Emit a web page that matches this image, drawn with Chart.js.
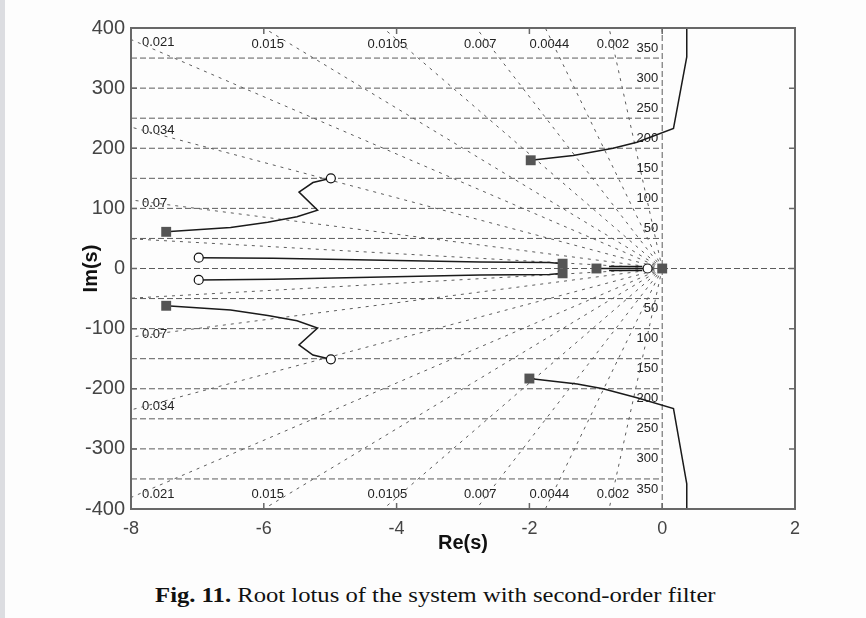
<!DOCTYPE html>
<html>
<head>
<meta charset="utf-8">
<title>Root locus</title>
<script src="https://cdn.jsdelivr.net/npm/chart.js@4.4.1/dist/chart.umd.min.js"></script>
<style>
  html, body { margin: 0; padding: 0; background: #fdfdfd; }
  body { width: 866px; height: 618px; position: relative; overflow: hidden; }
  #strip { position: absolute; left: 0; top: 0; width: 5px; height: 618px; background: #dcdde1; }
  #wrap { position: absolute; left: 0; top: 0; width: 866px; height: 555px; }
  #caption {
    position: absolute; left: 5px; width: 861px; top: 584px;
    text-align: center; color: #111;
    font: 22px "Liberation Serif", "Times New Roman", serif; line-height: 22px;
    transform: scaleX(1.12); transform-origin: 432px 0;
  }
</style>
</head>
<body>
<div id="strip"></div>
<div id="wrap"><canvas id="rootLocus" width="866" height="555"></canvas></div>
<div id="caption"><b>Fig. 11.</b> Root lotus of the system with second-order filter</div>

<script>
// axis ticks
const xTickValues = [-8, -6, -4, -2, 0, 2];
const yTickValues = [-400, -300, -200, -100, 0, 100, 200, 300, 400];

// s-plane grid: damping ratio rays and natural frequency rings
const dampingRatios = [0.002, 0.0044, 0.007, 0.0105, 0.015, 0.021, 0.034, 0.07];
const extraDampingRatios = [0.16];
const naturalFreqs = [50, 100, 150, 200, 250, 300, 350];

// locus branches
const upperOuterRe = [-7.47, -6.5, -5.94, -5.5, -5.19, -5.47, -5.26, -4.99];
const upperOuterIm = [61, 68, 77, 86, 97, 127, 143, 150];
const lowerOuterRe = [-7.47, -6.5, -5.94, -5.5, -5.19, -5.47, -5.26, -4.99];
const lowerOuterIm = [-62, -69, -78, -87, -99, -127, -144, -151];
const upperInnerRe = [-6.98, -5.86, -2.74, -1.7, -1.5];
const upperInnerIm = [18, 17, 11, 10, 8];
const lowerInnerRe = [-6.98, -5.86, -2.74, -1.7, -1.5];
const lowerInnerIm = [-19, -18, -11, -10, -8];
const realAxisRe = [-0.99, -0.22];
const realAxisIm = [0, 0];
const realUpperRe = [-0.8, -0.3];
const realUpperIm = [3.5, 3.5];
const realLowerRe = [-0.8, -0.3];
const realLowerIm = [-3.5, -3.5];
const upperFastRe = [-1.98, -1.34, -0.74, -0.38, 0.17, 0.37, 0.37];
const upperFastIm = [180, 188, 200, 210, 233, 352, 400];
const lowerFastRe = [-2.0, -1.28, -0.89, -0.38, 0.17, 0.37, 0.37];
const lowerFastIm = [-183, -192, -200, -215, -233, -358, -400];

// poles (squares) and zeros (circles)
const polesRe = [-7.47, -7.47, -1.5, -1.5, -0.99, 0, -1.98, -2.0];
const polesIm = [61, -62, 8, -8, 0, 0, 180, -183];
const zerosRe = [-4.99, -4.99, -6.98, -6.98, -0.22];
const zerosIm = [150, -151, 18, -19, 0];

const FONT = '"Liberation Sans", Arial, Helvetica, sans-serif';
const RAY_LEN = 1000;

const toPoints = (re, im) => re.map((v, i) => ({ x: v, y: im[i] }));

const dashed = (data, dash) => ({
  data,
  showLine: true,
  borderColor: '#5c5c5c',
  borderWidth: 1,
  borderDash: dash,
  pointRadius: 0,
  order: 3
});

const locus = (re, im) => ({
  data: toPoints(re, im),
  showLine: true,
  borderColor: '#1a1a1a',
  borderWidth: 1.5,
  pointRadius: 0,
  order: 2
});

// grid datasets
const gridSets = [];
dampingRatios.concat(extraDampingRatios).forEach(z => {
  const re = -z * RAY_LEN;
  const im = Math.sqrt(1 - z * z) * RAY_LEN;
  gridSets.push(dashed([{ x: 0, y: 0 }, { x: re, y: im }], [3, 5]));
  gridSets.push(dashed([{ x: 0, y: 0 }, { x: re, y: -im }], [3, 5]));
});
naturalFreqs.forEach(w => {
  gridSets.push(dashed([{ x: xTickValues[0], y: w }, { x: 0, y: w }], [6, 3]));
  gridSets.push(dashed([{ x: xTickValues[0], y: -w }, { x: 0, y: -w }], [6, 3]));
});
gridSets.push(dashed([{ x: 0, y: yTickValues[0] }, { x: 0, y: yTickValues[yTickValues.length - 1] }], [6, 3]));
gridSets.push(dashed([{ x: xTickValues[0], y: 0 }, { x: xTickValues[xTickValues.length - 1], y: 0 }], [6, 3]));

// labels for damping rays and frequency rings
const gridLabels = {
  id: 'gridLabels',
  beforeDatasetsDraw(chart) {
    const { ctx, chartArea, scales: { x, y } } = chart;
    ctx.save();
    ctx.font = '13px ' + FONT;
    ctx.fillStyle = '#222';
    ctx.textBaseline = 'middle';

    dampingRatios.forEach(z => {
      const slope = Math.sqrt(1 - z * z) / z;
      const reAtTop = -y.max / slope;
      [1, -1].forEach(sign => {
        if (reAtTop >= x.min) {
          ctx.textAlign = 'center';
          const py = sign > 0 ? chartArea.top + 16 : chartArea.bottom - 15;
          ctx.fillText(String(z), x.getPixelForValue(reAtTop) + 4, py);
        } else {
          ctx.textAlign = 'left';
          const py = y.getPixelForValue(sign * -x.min * slope) + 3 * sign;
          ctx.fillText(String(z), chartArea.left + 11, py);
        }
      });
    });

    ctx.textAlign = 'right';
    const px = x.getPixelForValue(0) - 4;
    naturalFreqs.forEach(w => {
      ctx.fillText(String(w), px, y.getPixelForValue(w) - 10);
      ctx.fillText(String(w), px, y.getPixelForValue(-w) + 10);
    });
    ctx.restore();
  }
};

// box frame with inward ticks
const frame = {
  id: 'frame',
  afterDatasetsDraw(chart) {
    const { ctx, chartArea: { left, right, top, bottom }, scales: { x, y } } = chart;
    ctx.save();
    ctx.strokeStyle = '#686868';
    ctx.lineWidth = 2;
    ctx.strokeRect(left, top, right - left, bottom - top);
    ctx.lineWidth = 1.5;
    ctx.beginPath();
    xTickValues.forEach(v => {
      const p = x.getPixelForValue(v);
      ctx.moveTo(p, bottom); ctx.lineTo(p, bottom - 6);
      ctx.moveTo(p, top); ctx.lineTo(p, top + 6);
    });
    yTickValues.forEach(v => {
      const p = y.getPixelForValue(v);
      ctx.moveTo(left, p); ctx.lineTo(left + 6, p);
      ctx.moveTo(right, p); ctx.lineTo(right - 6, p);
    });
    ctx.stroke();
    ctx.restore();
  }
};

const config = {
  type: 'scatter',
  data: {
    datasets: [
      ...gridSets,
      locus(upperOuterRe, upperOuterIm),
      locus(lowerOuterRe, lowerOuterIm),
      locus(upperInnerRe, upperInnerIm),
      locus(lowerInnerRe, lowerInnerIm),
      locus(realAxisRe, realAxisIm),
      locus(realUpperRe, realUpperIm),
      locus(realLowerRe, realLowerIm),
      locus(upperFastRe, upperFastIm),
      locus(lowerFastRe, lowerFastIm),
      {
        data: toPoints(polesRe, polesIm),
        pointStyle: 'rect',
        pointRadius: 7,
        backgroundColor: '#555',
        borderColor: '#555',
        borderWidth: 0,
        order: 0
      },
      {
        data: toPoints(zerosRe, zerosIm),
        pointStyle: 'circle',
        pointRadius: 4.5,
        backgroundColor: '#fff',
        borderColor: '#111',
        borderWidth: 1.2,
        order: 0
      }
    ]
  },
  options: {
    responsive: false,
    animation: false,
    events: [],
    layout: { padding: { left: 79, right: 71, top: 28, bottom: 0 } },
    plugins: {
      legend: { display: false },
      tooltip: { enabled: false }
    },
    scales: {
      x: {
        type: 'linear',
        min: xTickValues[0],
        max: xTickValues[xTickValues.length - 1],
        afterBuildTicks: s => { s.ticks = xTickValues.map(v => ({ value: v })); },
        afterFit: s => { s.height = 46; },
        ticks: {
          autoSkip: false,
          maxRotation: 0,
          padding: 9,
          color: '#444',
          font: { family: FONT, size: 18 }
        },
        grid: { display: false, drawTicks: false },
        border: { display: false },
        title: {
          display: true,
          text: 'Re(s)',
          color: '#111',
          padding: 0,
          font: { family: FONT, size: 20, weight: 'bold' }
        }
      },
      y: {
        type: 'linear',
        min: yTickValues[0],
        max: yTickValues[yTickValues.length - 1],
        afterBuildTicks: s => { s.ticks = yTickValues.map(v => ({ value: v })); },
        afterFit: s => { s.width = 52; },
        ticks: {
          autoSkip: false,
          padding: 6,
          color: '#444',
          font: { family: FONT, size: 20 }
        },
        grid: { display: false, drawTicks: false },
        border: { display: false },
        title: {
          display: true,
          text: 'Im(s)',
          color: '#111',
          padding: 0,
          font: { family: FONT, size: 20, weight: 'bold' }
        }
      }
    }
  },
  plugins: [gridLabels, frame]
};

new Chart(document.getElementById('rootLocus'), config);
</script>
</body>
</html>
